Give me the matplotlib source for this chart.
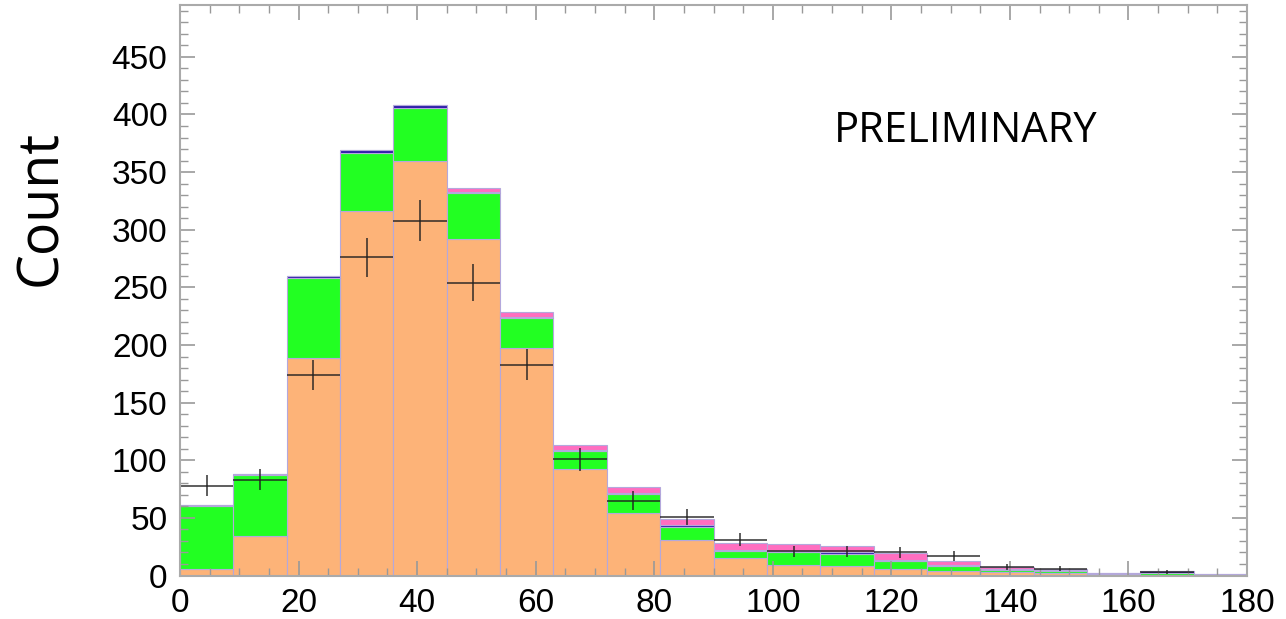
import numpy as np
import matplotlib
matplotlib.use("Agg")
import matplotlib.pyplot as plt
import matplotlib.ticker as plticker

# bin edges (width 9) and stacked layer contents
edges = np.arange(0, 181, 9)
orange = [6, 34, 189, 316, 360, 292, 197, 92, 54, 31, 15, 9, 8, 6, 4, 3, 2, 0.3, 0.5, 0.2]
green = [54, 53, 69, 51, 46, 40, 26, 16, 17, 11.5, 6, 11, 11, 6.5, 4.5, 2, 2, 0.7, 2, 0.3]
blue = [1.5, 1.5, 2, 2, 2, 1, 1, 1, 1, 1, 1, 1, 1, 1, 0.5, 0.5, 0.5, 1, 1, 1]
pink = [0, 0, 0, 0, 0, 3.5, 4.5, 4, 5, 5.5, 6, 6, 6, 6, 3.5, 2, 1.5, 0, 0, 0]

# measured counts and their uncertainties
data = [78, 83, 174, 276, 308, 254, 183, 101, 65, 51, 31, 21, 21, 20, 17, 7, 6, 0, 3, 0]
data_err = [8.8, 9.1, 13.2, 16.6, 17.5, 15.9, 13.5, 10.0, 8.0, 7.1, 5.5, 4.6, 4.6, 4.4, 4.1, 2.6, 2.5, 0, 1.7, 0]

layers = [
	(orange, '#fdb378'),
	(green, '#22ff22'),
	(blue, '#2a1aa8'),
	(pink, '#ff6ec0'),
]

fig = plt.figure(figsize=(12.86, 6.19), dpi=100)
ax = fig.add_axes([180 / 1286, 1 - 575.5 / 619, 1067 / 1286, 570.5 / 619])

width = np.diff(edges)
bottom = np.zeros(len(width))
for values, color in layers:
	values = np.array(values, dtype=float)
	ax.bar(edges[:-1], values, width=width, bottom=bottom, align='edge',
		   color=color, edgecolor='#b4a8dc', linewidth=0.8)
	bottom = bottom + values

# data points with error bars (skip empty bins)
centers = edges[:-1] + width / 2
data = np.array(data, dtype=float)
data_err = np.array(data_err, dtype=float)
mask = data > 0
ax.errorbar(centers[mask], data[mask], yerr=data_err[mask], xerr=width[mask] / 2,
			fmt='none', ecolor='#202020', elinewidth=1.2, capsize=0, alpha=0.85)

ax.set_xlim(0, 180)
ax.set_ylim(0, 495)

ax.xaxis.set_major_locator(plticker.MultipleLocator(20))
ax.xaxis.set_minor_locator(plticker.MultipleLocator(5))
ax.yaxis.set_major_locator(plticker.MultipleLocator(50))
ax.yaxis.set_minor_locator(plticker.MultipleLocator(10))

ax.tick_params(which='both', direction='in', top=True, right=True, color='#999999',
			   labelsize=24, labelcolor='black')
ax.tick_params(which='major', length=11, width=1.2)
ax.tick_params(which='minor', length=6, width=1.0)
ax.tick_params(axis='x', pad=9)
ax.tick_params(axis='y', pad=9)
for spine in ax.spines.values():
	spine.set_color('#aaaaaa')
	spine.set_linewidth(1.5)

for lbl in ax.get_xticklabels() + ax.get_yticklabels():
	lbl.set_fontfamily('Liberation Sans')

fig.text(42 / 1286, 1 - 208 / 619, 'Count', rotation=90, ha='center', va='center',
		 fontsize=40, family='Open Sans')
ax.text(0.736, 0.779, 'PRELIMINARY', transform=ax.transAxes, ha='center', va='center',
		fontsize=30, family='Open Sans')

fig.savefig('out.png', dpi=100)
